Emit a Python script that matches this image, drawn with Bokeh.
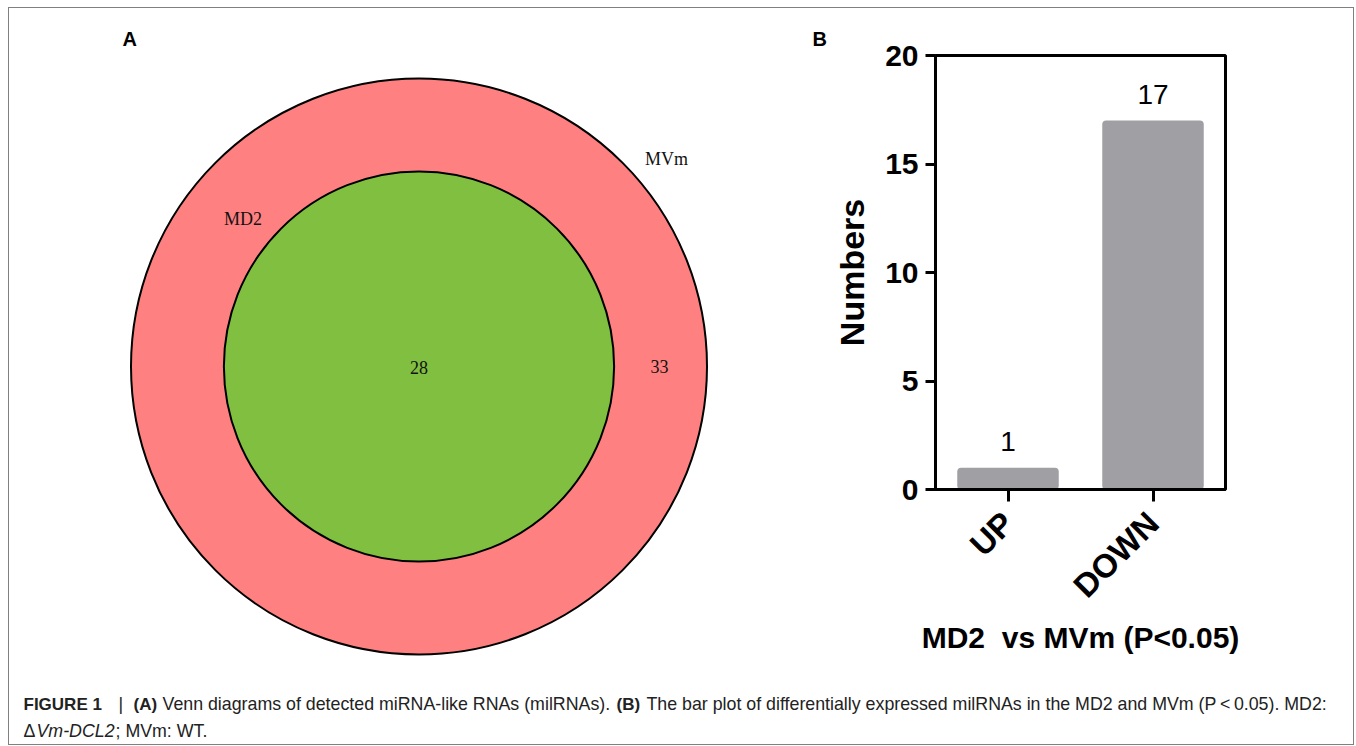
import math
from bokeh.plotting import figure
from bokeh.models import Range1d, FactorRange, FixedTicker, ColumnDataSource, LabelSet
from bokeh.layouts import row, column
from bokeh.embed import file_html
from bokeh.resources import INLINE
from bokeh.core.properties import value

# ---------------- data ----------------
venn_sets = ["MVm", "MD2"]
venn_only_mvm = 33
venn_shared = 28
categories = ["UP", "DOWN"]
counts = [1, 17]
y_ticks = [0, 5, 10, 15, 20]
panel_labels = ["A", "B"]
x_title = "MD2\u00a0 vs MVm (P<0.05)"
y_title = "Numbers"
caption_text = [
    "FIGURE 1", "|", "(A)", "Venn diagrams of detected miRNA-like RNAs (milRNAs).",
    "(B)", "The bar plot of differentially expressed milRNAs in the MD2 and MVm (P\u2009<\u20090.05). MD2:",
    "\u0394", "Vm-DCL2", "; MVm: WT.",
]
caption_style = ["bold", "normal", "bold", "normal", "bold", "normal", "normal", "italic", "normal"]

SANS = value("Liberation Sans")
SERIF = value("Liberation Serif")

# content origin on the page: (9, 8)
# ---------------- Venn panel (A) ----------------
venn = figure(width=821, height=660, x_range=Range1d(9, 830), y_range=Range1d(668, 8),
              output_backend="svg", toolbar_location=None, min_border=0,
              x_axis_location=None, y_axis_location=None, outline_line_color=None)
venn.frame_align = False
venn.grid.visible = False
total = venn_only_mvm + venn_shared
R = 288
cx, cy = 418.5, 366
venn.circle(x=[cx], y=[cy], radius=R, fill_color="#ff8080", line_color="black", line_width=2)
venn.circle(x=[cx], y=[cy], radius=R * math.sqrt(venn_shared / total),
            fill_color="#80bf40", line_color="black", line_width=2)
venn.text(x=[666, 242.5, 418.5, 659], y=[158, 218, 366.5, 366],
          text=[venn_sets[0], venn_sets[1], str(venn_shared), str(venn_only_mvm)],
          text_font=SERIF, text_font_size="18px", text_align="center",
          text_baseline="alphabetic", text_color="#111111")
venn.text(x=[122, 812], y=[38.5, 38], text=panel_labels, text_font=SANS, text_font_size="20px",
          text_font_style="bold", text_align="left", text_baseline="alphabetic", text_color="black")

# ---------------- Bar panel (B) ----------------
bar = figure(width=523, height=660, x_range=FactorRange(*categories), y_range=Range1d(0, 20),
             output_backend="svg", toolbar_location=None,
             min_border_left=105, min_border_right=128, min_border_top=47, min_border_bottom=179)
bar.frame_align = False
bar.grid.visible = False
src = ColumnDataSource(dict(cat=categories, n=counts, lbl=[str(c) for c in counts]))
bar.vbar(x="cat", top="n", width=0.70, source=src, fill_color="#a09fa4", line_color=None,
         border_radius=4)
bar.add_layout(LabelSet(x="cat", y="n", text="lbl", source=src, y_offset=17,
                        text_align="center", text_baseline="alphabetic",
                        text_font=SANS, text_font_size="28px", text_color="black"))
bar.outline_line_color = "black"
bar.outline_line_width = 3
bar.outline_line_alpha = 1

for ax in (bar.xaxis[0], bar.yaxis[0]):
    ax.axis_line_width = 3
    ax.axis_line_color = "black"
    ax.major_tick_line_width = 3
    ax.major_tick_line_color = "black"
    ax.major_tick_in = 0
    ax.minor_tick_line_color = None
    ax.major_label_text_font = "Liberation Sans"
    ax.major_label_text_font_style = "bold"
    ax.major_label_text_font_size = "30px"
    ax.major_label_text_color = "black"
    ax.axis_label_text_font = "Liberation Sans"
    ax.axis_label_text_font_style = "bold"
    ax.axis_label_text_color = "black"

bar.yaxis.ticker = FixedTicker(ticks=y_ticks)
bar.yaxis.major_tick_out = 10
bar.yaxis.major_label_standoff = 7
bar.yaxis.axis_label = y_title
bar.yaxis.axis_label_text_font_size = "34px"
bar.yaxis.axis_label_standoff = 11

bar.xaxis.major_tick_out = 12
bar.xaxis.major_label_standoff = 16
bar.xaxis.major_label_orientation = math.pi / 4
bar.xaxis.major_label_text_font_size = "33px"
bar.xaxis.axis_label = x_title
bar.xaxis.axis_label_text_font_size = "30px"
bar.xaxis.axis_label_standoff = 0

# ---------------- caption ----------------
cap = figure(width=1344, height=76, x_range=Range1d(9, 1353), y_range=Range1d(744, 668),
             output_backend="svg", toolbar_location=None, min_border=0,
             x_axis_location=None, y_axis_location=None, outline_line_color=None)
cap.frame_align = False
cap.grid.visible = False
cap_x = [23, 118, 133, 162, 616, 646, 23, 36, 115]
cap_y = [703.5] * 6 + [730.5] * 3
cap_fs = ["17px" if s == "bold" else "17.8px" for s in caption_style]
csrc = ColumnDataSource(dict(x=cap_x, y=cap_y, t=caption_text, s=caption_style, fs=cap_fs))
cap.text(x="x", y="y", text="t", text_font_style="s", text_font_size="fs", source=csrc,
         text_font=SANS, text_align="left", text_baseline="alphabetic", text_color="#222222")

lay = column(row(venn, bar), cap,
             styles={"border": "1px solid #808080", "margin-left": "8px", "margin-top": "7px"})
open("out.html", "w").write(file_html(lay, INLINE))
